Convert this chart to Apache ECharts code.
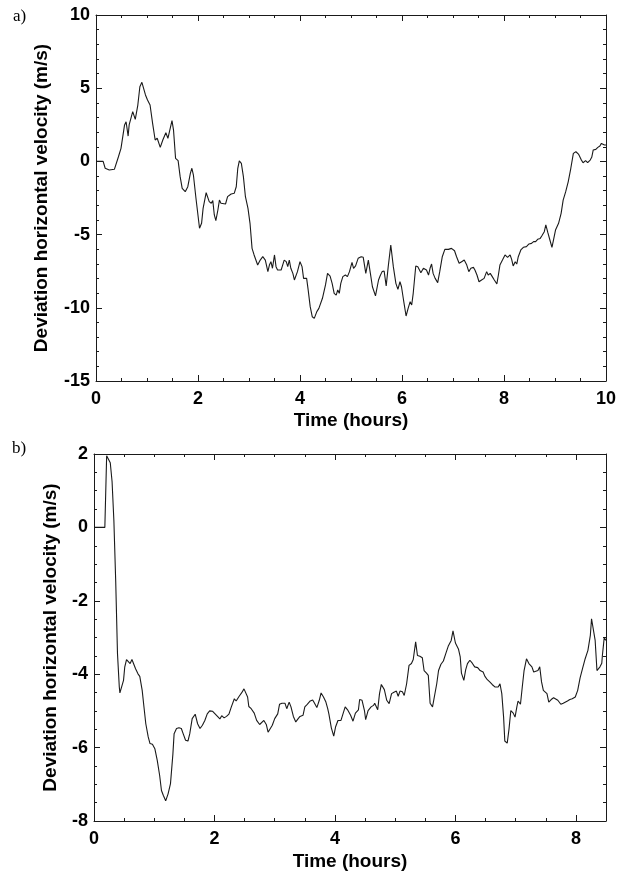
<!DOCTYPE html>
<html>
<head>
<meta charset="utf-8">
<script src="https://cdn.jsdelivr.net/npm/echarts@6/dist/echarts.min.js"></script>
<style>html,body{margin:0;padding:0;background:#fff}#c{width:624px;height:873px}</style>
</head>
<body>
<div id="c"></div>
<script>
// ---- Panel a) ----
const aHours = [0.00,0.14,0.18,0.26,0.36,0.39,0.44,0.49,0.56,0.59,0.63,0.65,0.72,0.77,0.82,0.86,0.90,0.93,0.97,1.01,1.06,1.11,1.16,1.20,1.23,1.26,1.31,1.37,1.41,1.44,1.49,1.52,1.56,1.61,1.65,1.69,1.72,1.75,1.80,1.85,1.88,1.91,1.96,2.03,2.07,2.10,2.16,2.19,2.22,2.26,2.29,2.32,2.35,2.39,2.42,2.45,2.48,2.54,2.58,2.65,2.71,2.75,2.78,2.81,2.85,2.89,2.93,2.98,3.02,3.06,3.10,3.17,3.22,3.27,3.32,3.37,3.40,3.43,3.46,3.50,3.53,3.56,3.59,3.63,3.66,3.69,3.73,3.76,3.79,3.82,3.86,3.89,3.92,3.95,4.00,4.04,4.07,4.10,4.13,4.16,4.20,4.24,4.28,4.33,4.37,4.39,4.44,4.50,4.54,4.59,4.63,4.67,4.71,4.74,4.77,4.80,4.84,4.89,4.93,4.97,5.02,5.05,5.09,5.14,5.20,5.24,5.29,5.34,5.38,5.42,5.48,5.54,5.57,5.61,5.65,5.69,5.73,5.78,5.83,5.88,5.92,5.96,5.99,6.03,6.08,6.12,6.16,6.19,6.22,6.27,6.31,6.33,6.37,6.42,6.45,6.48,6.52,6.55,6.58,6.61,6.65,6.70,6.74,6.79,6.84,6.91,6.97,7.03,7.07,7.12,7.17,7.22,7.27,7.31,7.35,7.40,7.43,7.47,7.51,7.56,7.61,7.66,7.69,7.73,7.77,7.81,7.86,7.89,7.92,7.97,8.02,8.07,8.12,8.15,8.18,8.22,8.25,8.28,8.33,8.38,8.44,8.49,8.54,8.58,8.62,8.66,8.71,8.74,8.79,8.82,8.86,8.90,8.94,8.97,9.01,9.07,9.12,9.16,9.21,9.26,9.31,9.36,9.41,9.46,9.51,9.55,9.60,9.64,9.69,9.72,9.75,9.80,9.84,9.88,9.91,9.97,10.00];
const aValues = [0.00,0.00,-0.47,-0.59,-0.54,-0.59,0.32,0.89,2.49,2.71,1.73,2.49,3.40,2.87,3.85,5.10,5.40,5.38,4.54,4.19,3.85,2.60,1.46,1.58,1.46,0.96,1.46,1.96,1.58,1.69,2.78,2.14,0.21,0.05,-1.04,-1.84,-1.77,-2.07,-1.73,-0.82,-0.47,-0.93,-2.52,-4.57,-4.23,-3.21,-2.14,-2.18,-2.75,-2.86,-2.68,-3.66,-4.05,-3.32,-2.64,-2.86,-2.91,-2.91,-2.41,-2.23,-2.18,-1.73,-0.47,0.03,-0.13,-1.04,-2.41,-3.21,-4.23,-5.94,-6.39,-7.08,-6.74,-6.51,-6.74,-7.53,-7.08,-6.85,-7.30,-6.39,-7.19,-7.42,-7.30,-7.42,-7.08,-6.74,-6.85,-7.19,-6.74,-7.30,-7.65,-8.10,-8.22,-7.53,-6.85,-7.19,-7.99,-8.10,-7.99,-8.78,-9.92,-10.61,-10.72,-10.26,-10.04,-10.04,-9.35,-8.44,-7.65,-7.83,-8.33,-9.01,-9.13,-8.78,-9.01,-8.33,-7.87,-7.76,-7.87,-7.53,-6.90,-7.30,-7.14,-6.62,-6.51,-6.55,-7.65,-6.74,-7.65,-8.56,-9.19,-8.10,-7.83,-7.53,-7.49,-8.51,-7.19,-5.71,-7.19,-8.33,-8.74,-8.22,-8.56,-9.47,-10.56,-10.04,-9.58,-9.81,-9.01,-7.14,-7.19,-7.24,-7.60,-7.30,-7.19,-7.42,-7.76,-7.30,-7.01,-7.65,-7.99,-8.28,-7.53,-6.51,-6.01,-6.01,-5.94,-6.10,-6.51,-6.96,-6.85,-6.74,-7.08,-7.53,-7.30,-7.24,-7.42,-7.76,-8.22,-8.10,-7.99,-7.53,-7.76,-7.65,-7.87,-8.10,-8.37,-7.76,-7.08,-6.74,-6.39,-6.55,-6.39,-6.69,-7.14,-6.85,-7.01,-6.51,-6.05,-5.87,-5.82,-5.64,-5.60,-5.48,-5.48,-5.32,-5.26,-5.10,-4.80,-4.34,-4.87,-5.37,-5.87,-5.37,-4.69,-4.23,-3.55,-2.64,-2.07,-1.38,-0.47,0.55,0.66,0.50,0.14,-0.09,0.05,-0.09,0.09,0.28,0.78,0.82,0.96,1.05,1.23,1.12,1.12];
const aXTicks = [0, 2, 4, 6, 8, 10];
const aYTicks = [-15, -10, -5, 0, 5, 10];

// ---- Panel b) ----
const bHours = [0.00,0.18,0.21,0.23,0.27,0.30,0.33,0.36,0.39,0.42,0.43,0.46,0.49,0.51,0.54,0.57,0.60,0.63,0.65,0.69,0.73,0.76,0.80,0.83,0.86,0.90,0.93,0.97,1.01,1.05,1.09,1.12,1.15,1.19,1.23,1.27,1.31,1.33,1.37,1.41,1.45,1.48,1.52,1.56,1.59,1.63,1.68,1.72,1.76,1.80,1.84,1.88,1.92,1.97,2.00,2.05,2.09,2.12,2.16,2.20,2.24,2.28,2.33,2.36,2.41,2.45,2.49,2.52,2.55,2.57,2.61,2.66,2.70,2.75,2.78,2.82,2.86,2.89,2.92,2.96,3.00,3.05,3.08,3.12,3.17,3.20,3.24,3.27,3.31,3.35,3.39,3.42,3.47,3.50,3.54,3.59,3.63,3.65,3.70,3.74,3.77,3.81,3.85,3.88,3.90,3.94,3.98,4.01,4.05,4.10,4.13,4.17,4.21,4.26,4.30,4.34,4.39,4.41,4.45,4.49,4.51,4.55,4.60,4.64,4.66,4.71,4.74,4.77,4.82,4.86,4.90,4.94,4.98,5.02,5.05,5.08,5.12,5.15,5.19,5.23,5.27,5.30,5.34,5.37,5.41,5.45,5.48,5.52,5.55,5.58,5.62,5.65,5.69,5.72,5.76,5.80,5.84,5.88,5.93,5.96,6.00,6.05,6.08,6.10,6.14,6.17,6.20,6.24,6.28,6.32,6.37,6.41,6.44,6.46,6.49,6.53,6.57,6.61,6.66,6.68,6.71,6.74,6.77,6.80,6.82,6.86,6.89,6.92,6.96,6.99,7.02,7.04,7.08,7.11,7.14,7.18,7.22,7.27,7.30,7.33,7.37,7.40,7.43,7.46,7.49,7.52,7.55,7.59,7.63,7.66,7.70,7.72,7.75,7.79,7.82,7.86,7.90,7.94,7.99,8.03,8.07,8.11,8.15,8.20,8.24,8.26,8.29,8.32,8.35,8.37,8.40,8.43,8.44,8.47,8.50];
const bValues = [0.00,0.00,1.95,1.90,1.76,1.25,0.19,-1.44,-3.44,-4.35,-4.51,-4.55,-4.17,-3.81,-3.60,-3.62,-3.71,-3.60,-3.64,-3.85,-3.99,-4.06,-4.44,-4.90,-5.35,-5.71,-5.89,-5.91,-6.03,-6.35,-6.76,-7.17,-7.30,-7.45,-7.26,-6.98,-6.17,-5.62,-5.48,-5.46,-5.48,-5.62,-5.80,-5.82,-5.62,-5.21,-5.09,-5.35,-5.48,-5.39,-5.26,-5.08,-5.00,-5.01,-5.06,-5.15,-5.22,-5.13,-5.19,-5.15,-5.09,-4.89,-4.67,-4.73,-4.60,-4.51,-4.40,-4.37,-4.62,-4.88,-4.94,-5.06,-5.26,-5.37,-5.33,-5.26,-5.37,-5.58,-5.60,-5.39,-5.21,-5.08,-4.82,-4.79,-4.79,-4.94,-4.76,-4.89,-5.15,-5.30,-5.21,-5.15,-5.12,-4.89,-4.82,-4.73,-4.70,-4.76,-4.91,-4.71,-4.51,-4.62,-4.76,-4.94,-5.09,-5.46,-5.69,-5.44,-5.26,-5.26,-5.21,-4.89,-4.97,-5.12,-5.28,-5.06,-4.97,-4.69,-4.71,-4.99,-5.24,-4.99,-4.89,-4.85,-4.79,-4.97,-4.53,-4.28,-4.42,-4.71,-4.80,-4.53,-4.49,-4.46,-4.60,-4.46,-4.48,-4.58,-4.26,-3.76,-3.71,-3.60,-3.12,-3.49,-3.51,-3.55,-3.90,-3.97,-4.03,-4.79,-4.89,-4.91,-4.26,-3.90,-3.73,-3.64,-3.44,-3.24,-3.08,-2.82,-3.15,-3.31,-3.53,-3.97,-4.17,-3.88,-3.71,-3.62,-3.70,-3.80,-3.82,-3.90,-3.85,-3.94,-4.06,-4.15,-4.21,-4.28,-4.35,-4.40,-4.35,-4.26,-4.53,-5.17,-5.82,-5.88,-5.49,-4.99,-5.06,-5.17,-4.89,-4.73,-4.82,-4.35,-3.90,-3.58,-3.71,-3.80,-3.94,-3.94,-3.90,-3.80,-4.21,-4.44,-4.40,-4.53,-4.76,-4.69,-4.64,-4.62,-4.71,-4.67,-4.82,-4.79,-4.79,-4.73,-4.69,-4.67,-4.62,-4.44,-4.10,-3.85,-3.60,-3.35,-2.94,-2.49,-2.52,-3.08,-3.90,-3.94,-3.80,-3.70,-3.49,-3.01,-3.08];
const bXTicks = [0, 2, 4, 6, 8];
const bYTicks = [-8, -6, -4, -2, 0, 2];

const INK = '#1a1a1a';
const FONT = 'Liberation Sans';
const pairs = (xs, ys) => xs.map((x, i) => [x, ys[i]]);

function mainAxis(dim, grid, pos, min, max, interval, minorSplit, ticks, labelled, extra) {
  const ax = Object.assign({
    type: 'value', gridIndex: grid, position: pos, min: min, max: max, interval: interval,
    splitLine: { show: false },
    axisLine: { show: true, onZero: false, lineStyle: { color: INK, width: 1 } },
    axisTick: { show: true, inside: true, length: 6, lineStyle: { color: INK, width: 1 } },
    minorTick: { show: minorSplit > 0, splitNumber: minorSplit || 5, length: 3, lineStyle: { color: INK, width: 1 } },
    axisLabel: {
      show: labelled, color: '#000', fontFamily: FONT, fontWeight: 'bold', fontSize: 18,
      margin: dim === 'x' ? 9 : 6,
      formatter: v => (ticks.indexOf(v) >= 0 ? String(v) : '')
    }
  }, extra || {});
  return ax;
}
function minorAxis(grid, pos, min, max, step) {
  return {
    type: 'value', gridIndex: grid, position: pos, min: min, max: max, interval: step,
    splitLine: { show: false }, axisLine: { show: false, onZero: false },
    axisTick: { show: true, inside: true, length: 3, lineStyle: { color: INK, width: 1 } },
    axisLabel: { show: false }
  };
}
const nameStyle = { color: '#000', fontFamily: FONT, fontWeight: 'bold', fontSize: 19 };

const option = {
  animation: false,
  backgroundColor: '#fff',
  grid: [
    { left: 96, top: 15, width: 510, height: 366, containLabel: false },
    { left: 94, top: 454, width: 512, height: 367, containLabel: false }
  ],
  xAxis: [
    mainAxis('x', 0, 'bottom', 0, 10, 2, 4, aXTicks, true,
      { name: 'Time (hours)', nameLocation: 'middle', nameGap: 30, nameTextStyle: nameStyle, nameMoveOverlap: false }),
    mainAxis('x', 0, 'top', 0, 10, 2, 4, aXTicks, false),
    mainAxis('x', 1, 'bottom', 0, 8.5, 2, 0, bXTicks, true,
      { name: 'Time (hours)', nameLocation: 'middle', nameGap: 31, nameTextStyle: nameStyle, nameMoveOverlap: false }),
    mainAxis('x', 1, 'top', 0, 8.5, 2, 0, bXTicks, false),
    minorAxis(1, 'bottom', 0, 8.5, 0.5),
    minorAxis(1, 'top', 0, 8.5, 0.5)
  ],
  yAxis: [
    mainAxis('y', 0, 'left', -15, 10, 5, 5, aYTicks, true,
      { name: 'Deviation horizontal velocity (m/s)', nameLocation: 'middle', nameGap: 45, nameTextStyle: nameStyle, nameMoveOverlap: false }),
    mainAxis('y', 0, 'right', -15, 10, 5, 5, aYTicks, false),
    mainAxis('y', 1, 'left', -8, 2, 2, 4, bYTicks, true,
      { name: 'Deviation horizontal velocity (m/s)', nameLocation: 'middle', nameGap: 34, nameTextStyle: nameStyle, nameMoveOverlap: false }),
    mainAxis('y', 1, 'right', -8, 2, 2, 4, bYTicks, false)
  ],
  graphic: [
    { type: 'text', left: 13, top: 8, style: { text: 'a)', fontFamily: 'Liberation Serif', fontSize: 17, fill: '#000' } },
    { type: 'text', left: 12, top: 440, style: { text: 'b)', fontFamily: 'Liberation Serif', fontSize: 17, fill: '#000' } }
  ],
  series: [
    { type: 'line', xAxisIndex: 0, yAxisIndex: 0, data: pairs(aHours, aValues), showSymbol: false, symbol: 'none',
      lineStyle: { color: INK, width: 1.1 }, silent: true },
    { type: 'line', xAxisIndex: 2, yAxisIndex: 2, data: pairs(bHours, bValues), showSymbol: false, symbol: 'none',
      lineStyle: { color: INK, width: 1.1 }, silent: true }
  ]
};
const chart = echarts.init(document.getElementById('c'), null, { renderer: 'canvas' });
chart.setOption(option);
</script>
</body>
</html>
